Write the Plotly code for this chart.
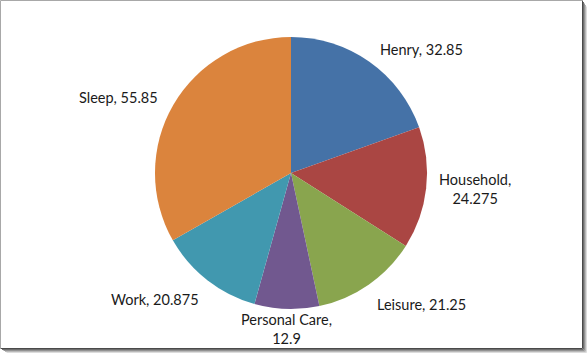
import math
import plotly.graph_objects as go

labels = ["Henry", "Household", "Leisure", "Personal Care", "Work", "Sleep"]
values = [32.85, 24.275, 21.25, 12.9, 20.875, 55.85]
colors = ["#4572A7", "#AA4643", "#89A54E", "#71588F", "#4198AF", "#DB843D"]
wrap_label = [False, True, False, True, False, False]

W, H = 588, 354
ML, MR, MT, MB = 0, 6, 37, 45
PW, PH = W - ML - MR, H - MT - MB
CX, CY = ML + PW / 2, MT + PH / 2
R = min(PW, PH) / 2


def px(x):
    return (x - ML) / PW


def py(y):
    return 1 - (y - MT) / PH


fig = go.Figure(go.Pie(
    labels=labels, values=values, sort=False, direction="clockwise", rotation=0,
    marker=dict(colors=colors, line=dict(width=0)),
    textinfo="none", hoverinfo="label+value", showlegend=False,
))

total = sum(values)
annotations = []
cum = 0.0
for lab, val, wrap in zip(labels, values, wrap_label):
    mid = (cum + val / 2) / total * 2 * math.pi
    cum += val
    s, c = math.sin(mid), math.cos(mid)
    if abs(s) < 0.3:
        xa = "center"
        rr = R * 1.0
    else:
        xa = "left" if s > 0 else "right"
        rr = R * (1.11 if c > 0.3 else 1.08)
    x = CX + rr * s
    y = CY - rr * c
    if c < -0.7:
        ya = "top"
    elif c > 0.95:
        ya = "bottom"
    else:
        ya = "middle"
    txt = f"{lab},<br>{val:g}" if wrap else f"{lab}, {val:g}"
    annotations.append(dict(
        x=px(x), y=py(y), xref="paper", yref="paper", text=txt, showarrow=False,
        xanchor=xa, yanchor=ya, align="center",
        font=dict(family="Lato", size=14.5, color="#1a1a1a"),
    ))

shapes = []
# light frame (top/left)
shapes.append(dict(type="line", xref="paper", yref="paper", x0=px(0.5), y0=py(0.5), x1=px(582), y1=py(0.5),
                   line=dict(color="#a8a8a8", width=1)))
shapes.append(dict(type="line", xref="paper", yref="paper", x0=px(0.5), y0=py(0.5), x1=px(0.5), y1=py(348),
                   line=dict(color="#a8a8a8", width=1)))
# dark right/bottom edge with shadow
shades = ["#4a4a4a", "#6e6e6e", "#929292", "#b8b8b8", "#dcdcdc"]
for i, col in enumerate(shades):
    xr = 582.5 + i
    yb = 348.5 + i
    shapes.append(dict(type="line", xref="paper", yref="paper", x0=px(xr), y0=py(0.5 + i * 1.5), x1=px(xr), y1=py(yb),
                       line=dict(color=col, width=1)))
    shapes.append(dict(type="line", xref="paper", yref="paper", x0=px(0.5 + i * 1.5), y0=py(yb), x1=px(xr), y1=py(yb),
                       line=dict(color=col, width=1)))

fig.update_layout(
    width=W, height=H,
    margin=dict(l=ML, r=MR, t=MT, b=MB),
    paper_bgcolor="white", plot_bgcolor="white",
    annotations=annotations, shapes=shapes,
)
fig.write_html("out.html")
